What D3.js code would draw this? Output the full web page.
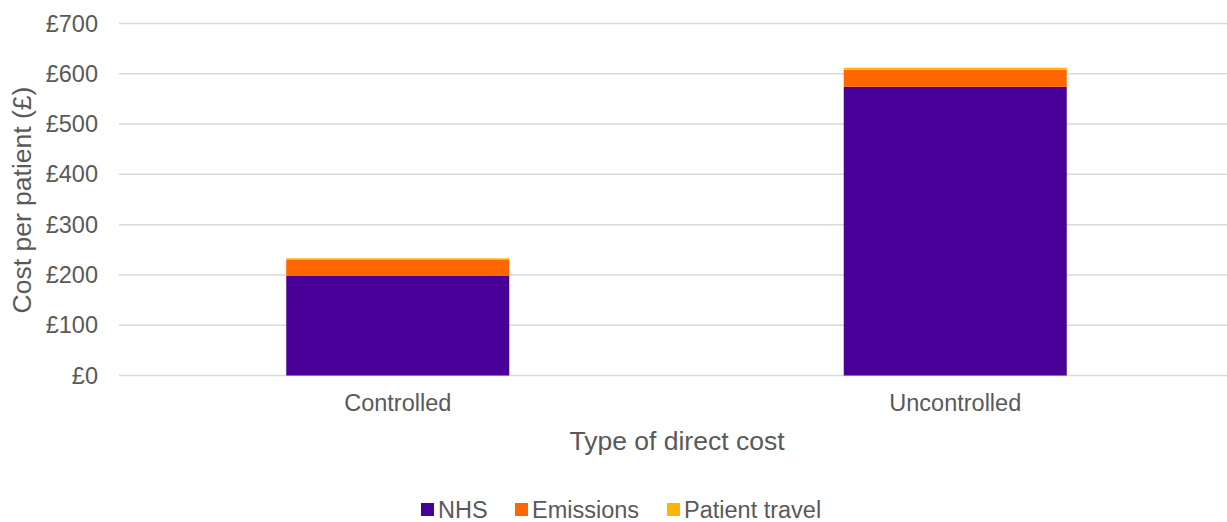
<!DOCTYPE html>
<html>
<head>
<meta charset="utf-8">
<script src="https://cdn.jsdelivr.net/npm/d3@7"></script>
<style>
  body { margin: 0; background: #fff; }
  svg { display: block; font-family: "Liberation Sans", Arial, sans-serif; }
</style>
</head>
<body>
<svg id="chart" width="1227" height="522"></svg>
<script>
// Direct cost per patient, stacked by component
const categories = ["Controlled", "Uncontrolled"];
const seriesNames = ["NHS", "Emissions", "Patient travel"];
const nhs = [198, 574];
const emissions = [33, 34];
const patientTravel = [2, 4];
const yTicks = [0, 100, 200, 300, 400, 500, 600, 700];
const colors = ["#480099", "#FF6600", "#FFB400"];

const rows = categories.map((c, i) => ({
  category: c,
  "NHS": nhs[i],
  "Emissions": emissions[i],
  "Patient travel": patientTravel[i]
}));

const svg = d3.select("#chart");
const margin = { left: 119, right: -7, top: 23.5, bottom: 146.5 };
const W = 1227, H = 522;

const x = d3.scaleBand()
  .domain(categories)
  .range([margin.left, W - margin.right])
  .paddingInner(0.6)
  .paddingOuter(0.3);

const y = d3.scaleLinear()
  .domain([0, 700])
  .range([H - margin.bottom, margin.top]);

const textColor = "#595959";
const tickFont = "23.5px";

// Gridlines
svg.append("g")
  .selectAll("line")
  .data(yTicks)
  .join("line")
  .attr("x1", margin.left)
  .attr("x2", W - margin.right)
  .attr("y1", d => y(d))
  .attr("y2", d => y(d))
  .attr("stroke", "#d9d9d9")
  .attr("stroke-width", 1.5);

// Y axis labels
const yAxis = d3.axisLeft(y)
  .tickValues(yTicks)
  .tickFormat(d => "£" + d)
  .tickSize(0)
  .tickPadding(21);
const gy = svg.append("g")
  .attr("transform", `translate(${margin.left},0)`)
  .call(yAxis);
gy.select(".domain").remove();
gy.selectAll("text")
  .attr("fill", textColor)
  .style("font-size", tickFont)
  .style("font-family", "'Liberation Sans', Arial, sans-serif");

// Stacked bars
const stack = d3.stack().keys(seriesNames);
const layers = stack(rows);

svg.append("g")
  .selectAll("g")
  .data(layers)
  .join("g")
  .attr("fill", (d, i) => colors[i])
  .selectAll("rect")
  .data(d => d)
  .join("rect")
  .attr("x", d => x(d.data.category))
  .attr("width", x.bandwidth())
  .attr("y", d => y(d[1]))
  .attr("height", d => y(d[0]) - y(d[1]));

// X axis labels
const xAxis = d3.axisBottom(x).tickSize(0).tickPadding(19);
const gx = svg.append("g")
  .attr("transform", `translate(0,${y(0)})`)
  .call(xAxis);
gx.select(".domain").remove();
gx.selectAll("text")
  .attr("fill", textColor)
  .style("font-size", tickFont)
  .style("font-family", "'Liberation Sans', Arial, sans-serif");

// Axis titles
svg.append("text")
  .attr("x", 677)
  .attr("y", 450)
  .attr("text-anchor", "middle")
  .attr("fill", textColor)
  .style("font-size", "26.5px")
  .text("Type of direct cost");

svg.append("text")
  .attr("transform", "translate(31,200) rotate(-90)")
  .attr("text-anchor", "middle")
  .attr("fill", textColor)
  .style("font-size", "26.5px")
  .text("Cost per patient (£)");

// Legend
const legendX = [421, 515, 667];
const legend = svg.append("g")
  .selectAll("g")
  .data(seriesNames)
  .join("g")
  .attr("transform", (d, i) => `translate(${legendX[i]},503)`);
legend.append("rect")
  .attr("width", 13)
  .attr("height", 13)
  .attr("fill", (d, i) => colors[i]);
legend.append("text")
  .attr("x", 17)
  .attr("y", 14.5)
  .attr("fill", textColor)
  .style("font-size", tickFont)
  .text(d => d);
</script>
</body>
</html>
